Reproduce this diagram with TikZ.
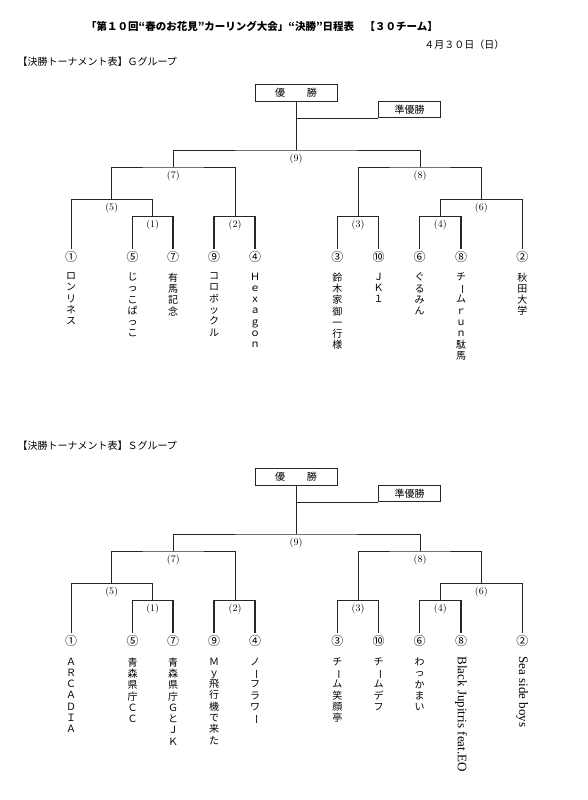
\documentclass[tikz,border=0pt]{standalone}
\usepackage{fontspec}
\usepackage{graphicx}
\usepackage{tikz}
\usetikzlibrary{positioning}
\newfontfamily\jp{Noto Sans CJK JP}
\newfontfamily\lat{Liberation Serif}
\newcommand\nobashi{\rotatebox[origin=c]{-90}{ー}}

\begin{document}
\begin{tikzpicture}[x=1pt,y=-1pt,
		line/.style={draw=black!85, line width=0.8pt},
		firstline/.style={draw=black!85, line width=1.3pt},
		titlebox/.style={rectangle, draw=black!85, line width=0.9pt, font=\jp\fontsize{10}{12}\selectfont, inner sep=0pt},
		matchlabel/.style={anchor=north, inner sep=3.5pt, font=\fontsize{10}{12}\selectfont},
		seed/.style={inner sep=2.4pt, font=\jp\fontsize{12}{14}\selectfont},
		teamname/.style={anchor=north, align=center, inner sep=0pt, font=\jp\fontsize{10}{11.3}\selectfont},
		teamlatin/.style={anchor=west, rotate=-90, inner sep=0pt, font=\lat\fontsize{13}{15}\selectfont},
		]
		\useasboundingbox (0,0) rectangle (587,800);
		%Heading
		\node[font=\jp\bfseries\fontsize{10.5}{12}\selectfont] (title) at (262,26) {「第１０回“春のお花見”カーリング大会」“決勝”日程表　【３０チーム】};
		\node[anchor=east, font=\jp\fontsize{10}{12}\selectfont] (date) at (508,44.5) {４月３０日（日）};
		
		%G group
		\node[anchor=west, font=\jp\fontsize{10}{12}\selectfont] (ghead) at (14,62) {【決勝トーナメント表】Ｇグループ};
		\node[titlebox, minimum width=82pt, minimum height=17pt] (gwin) at (296,92.8) {優\hspace{2.2em}勝};
		\node[titlebox, minimum width=61.6pt, minimum height=16.4pt] (gru) at (409.5,109.5) {準優勝};
		\coordinate (gm9) at (296,150);
		\coordinate (gm7) at (173.3,167);
		\coordinate (gm8) at (420,167);
		\coordinate (gm5) at (111.7,199.3);
		\coordinate (gm6) at (481.3,199.3);
		\coordinate (gm1) at (152.7,216.3);
		\coordinate (gm2) at (235,216.3);
		\coordinate (gm3) at (358,216.3);
		\coordinate (gm4) at (440.3,216.3);
		\foreach \m in {1,...,9}
			\node[matchlabel] (gl\m) at (gm\m) {(\m)};
		\node[seed] (g1)  at (71,256.7)    {①};
		\node[seed] (g5)  at (132.7,256.7) {⑤};
		\node[seed] (g7)  at (173,256.7)   {⑦};
		\node[seed] (g9)  at (214,256.7)   {⑨};
		\node[seed] (g4)  at (255,256.7)   {④};
		\node[seed] (g3)  at (337.3,256.7) {③};
		\node[seed] (g10) at (378.7,256.7) {⑩};
		\node[seed] (g6)  at (419.7,256.7) {⑥};
		\node[seed] (g8)  at (461,256.7)   {⑧};
		\node[seed] (g2)  at (522.3,256.7) {②};
		\node[teamname] (gt1)  at (71,272.5)    {ロ\\ン\\リ\\ネ\\ス};
		\node[teamname] (gt5)  at (132.7,272.5) {じ\\っ\\こ\\ぱ\\っ\\こ};
		\node[teamname] (gt7)  at (173,272.5)   {有\\馬\\記\\念};
		\node[teamname] (gt9)  at (214,272.5)   {コ\\ロ\\ボ\\ッ\\ク\\ル};
		\node[teamname] (gt4)  at (255,272.5)   {Ｈ\\ｅ\\ｘ\\ａ\\ｇ\\ｏ\\ｎ};
		\node[teamname] (gt3)  at (337.3,272.5) {鈴\\木\\家\\御\\一\\行\\様};
		\node[teamname] (gt10) at (378.7,272.5) {Ｊ\\Ｋ\\１};
		\node[teamname] (gt6)  at (419.7,272.5) {ぐ\\る\\み\\ん};
		\node[teamname] (gt8)  at (461,272.5)   {チ\\\nobashi\\ム\\ｒ\\ｕ\\ｎ\\駄\\馬};
		\node[teamname] (gt2)  at (522.3,272.5) {秋\\田\\大\\学};
		%Lines
		\draw[line] (gwin.south) -- (gm9);
		\draw[line] (gwin.south |- gru.south west) -- (gru.south west);
		\draw[line] (gm7) |- (gm9) -| (gm8);
		\draw[line] (gm5) |- (gm7) -| (gm2);
		\draw[line] (gm3) |- (gm8) -| (gm6);
		\draw[line] (g1.north) |- (gm5) -| (gm1);
		\draw[line] (gm4) |- (gm6) -| (g2.north);
		\draw[firstline] (g5.north) |- (gm1) -| (g7.north);
		\draw[firstline] (g9.north) |- (gm2) -| (g4.north);
		\draw[firstline] (g3.north) |- (gm3) -| (g10.north);
		\draw[firstline] (g6.north) |- (gm4) -| (g8.north);
		
		%S group
		\begin{scope}[yshift=-384pt]
		\node[anchor=west, font=\jp\fontsize{10}{12}\selectfont] (shead) at (14,62) {【決勝トーナメント表】Ｓグループ};
		\node[titlebox, minimum width=82pt, minimum height=17pt] (swin) at (296,92.8) {優\hspace{2.2em}勝};
		\node[titlebox, minimum width=61.6pt, minimum height=16.4pt] (sru) at (409.5,109.5) {準優勝};
		\coordinate (sm9) at (296,150);
		\coordinate (sm7) at (173.3,167);
		\coordinate (sm8) at (420,167);
		\coordinate (sm5) at (111.7,199.3);
		\coordinate (sm6) at (481.3,199.3);
		\coordinate (sm1) at (152.7,216.3);
		\coordinate (sm2) at (235,216.3);
		\coordinate (sm3) at (358,216.3);
		\coordinate (sm4) at (440.3,216.3);
		\foreach \m in {1,...,9}
			\node[matchlabel] (sl\m) at (sm\m) {(\m)};
		\node[seed] (s1)  at (71,256.7)    {①};
		\node[seed] (s5)  at (132.7,256.7) {⑤};
		\node[seed] (s7)  at (173,256.7)   {⑦};
		\node[seed] (s9)  at (214,256.7)   {⑨};
		\node[seed] (s4)  at (255,256.7)   {④};
		\node[seed] (s3)  at (337.3,256.7) {③};
		\node[seed] (s10) at (378.7,256.7) {⑩};
		\node[seed] (s6)  at (419.7,256.7) {⑥};
		\node[seed] (s8)  at (461,256.7)   {⑧};
		\node[seed] (s2)  at (522.3,256.7) {②};
		\node[teamname] (st1)  at (71,273.5)    {Ａ\\Ｒ\\Ｃ\\Ａ\\Ｄ\\Ｉ\\Ａ};
		\node[teamname] (st5)  at (132.7,273.5) {青\\森\\県\\庁\\Ｃ\\Ｃ};
		\node[teamname] (st7)  at (173,273.5)   {青\\森\\県\\庁\\Ｇ\\と\\Ｊ\\Ｋ};
		\node[teamname] (st9)  at (214,273.5)   {Ｍ\\ｙ\\飛\\行\\機\\で\\来\\た};
		\node[teamname] (st4)  at (255,273.5)   {ノ\\\nobashi\\フ\\ラ\\ワ\\\nobashi};
		\node[teamname] (st3)  at (337.3,273.5) {チ\\\nobashi\\ム\\笑\\顔\\亭};
		\node[teamname] (st10) at (378.7,273.5) {チ\\\nobashi\\ム\\デ\\フ};
		\node[teamname] (st6)  at (419.7,273.5) {わ\\っ\\か\\ま\\い};
		\node[teamlatin] (st8)  at (461,272.5)   {Black Jupitris feat.EO};
		\node[teamlatin] (st2)  at (522.3,272.5) {Sea side boys};
		%Lines
		\draw[line] (swin.south) -- (sm9);
		\draw[line] (swin.south |- sru.south west) -- (sru.south west);
		\draw[line] (sm7) |- (sm9) -| (sm8);
		\draw[line] (sm5) |- (sm7) -| (sm2);
		\draw[line] (sm3) |- (sm8) -| (sm6);
		\draw[line] (s1.north) |- (sm5) -| (sm1);
		\draw[line] (sm4) |- (sm6) -| (s2.north);
		\draw[firstline] (s5.north) |- (sm1) -| (s7.north);
		\draw[firstline] (s9.north) |- (sm2) -| (s4.north);
		\draw[firstline] (s3.north) |- (sm3) -| (s10.north);
		\draw[firstline] (s6.north) |- (sm4) -| (s8.north);
		\end{scope}
\end{tikzpicture}
\end{document}
